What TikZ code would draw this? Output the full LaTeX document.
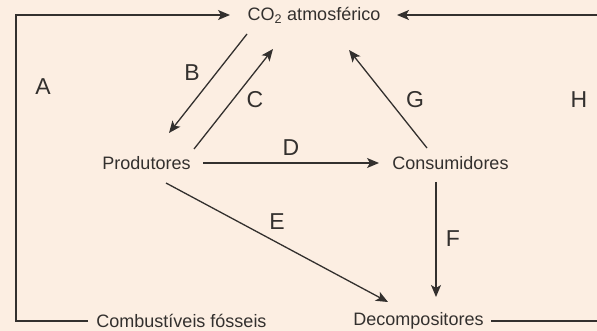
\documentclass[tikz,border=0pt]{standalone}
\usepackage{fontspec}
\setmainfont{Liberation Sans}
\usetikzlibrary{arrows.meta}
\definecolor{fundo}{HTML}{FCEEE2}
\definecolor{traco}{HTML}{33302E}

\begin{document}
\begin{tikzpicture}[x=1pt, y=-1pt,
  every node/.style={font=\fontsize{18}{20}\selectfont, text=traco, inner sep=0pt},
  letra/.style={font=\fontsize{23}{25}\selectfont},
  linha/.style={draw=traco, line width=1.3pt},
  seta/.style={linha, -{Stealth[length=12pt, width=10pt, inset=3pt]}}]
\useasboundingbox (0,0) rectangle (597,331);
\fill[fundo] (0,0) rectangle (597,331);
\clip (0,0) rectangle (597,331);
% compartimentos
\node (co2)  at (314,15)    {CO\textsubscript{2} atmosférico};
\node (prod) at (146.5,163) {Produtores};
\node (cons) at (450.5,163) {Consumidores};
\node (dec)  at (418.5,321) {Decompositores};
\node (comb) at (181.5,321) {Combustíveis fósseis};
\coordinate (lft) at (16,15);
\coordinate (rgt) at (600,15);
% letras
\node[letra] (lA) at (43,87)   {A};
\node[letra] (lB) at (192,73)  {B};
\node[letra] (lC) at (255,100) {C};
\node[letra] (lD) at (291,148) {D};
\node[letra] (lE) at (277,222) {E};
\node[letra] (lF) at (453,239) {F};
\node[letra] (lG) at (415,100) {G};
\node[letra] (lH) at (579,100) {H};
% fluxos
\draw[seta] ([shift={(-67,19)}]co2.center) -- ([shift={(22.5,-30)}]prod.center);
\draw[seta] ([shift={(47.5,-14)}]prod.center) -- ([shift={(-41,34)}]co2.center);
\draw[seta] ([shift={(-23.5,-15)}]cons.center) -- ([shift={(35,35)}]co2.center);
\draw[seta] ([shift={(56.5,0)}]prod.center) -- ([shift={(-71.5,0)}]cons.center);
\draw[seta] ([shift={(19.5,20)}]prod.center) -- ([shift={(-30.5,-19)}]dec.center);
\draw[seta] ([shift={(-14.5,19)}]cons.center) -- ([shift={(17.5,-24)}]dec.center);
\draw[seta] ([shift={(-93.5,0)}]comb.center) -| (lft) -- ([shift={(-84,0)}]co2.center);
\draw[seta] ([shift={(72.5,0)}]dec.center) -| (rgt) -- ([shift={(83,0)}]co2.center);
\end{tikzpicture}
\end{document}
